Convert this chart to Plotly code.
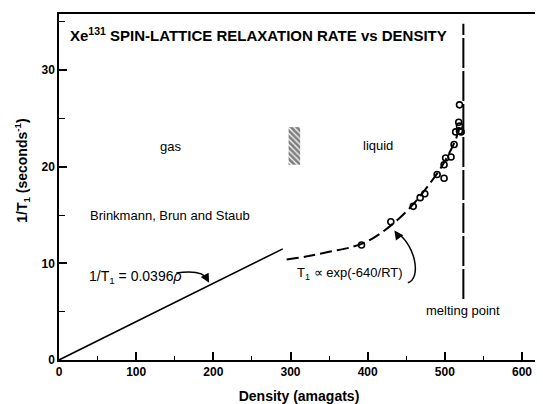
import plotly.graph_objects as go

# ---- data ----
meas_density = [392, 430, 459, 468, 474, 490, 499, 499, 501, 508, 512, 514, 518, 519, 519, 521, 519]
meas_rate = [11.9, 14.3, 15.9, 16.8, 17.2, 19.2, 18.8, 20.2, 20.9, 21.0, 22.3, 23.6, 24.6, 24.2, 23.7, 23.6, 26.4]

gas_density = [0, 290]
gas_rate = [0, 11.5]

fit_density = [295, 320, 350, 380, 400, 420, 440, 460, 480, 495, 505, 515, 519]
fit_rate = [10.4, 10.7, 11.2, 11.7, 12.3, 13.3, 14.6, 16.2, 18.2, 19.9, 21.3, 23.0, 24.2]

melt_density = [524, 524]
melt_rate = [6.3, 34.8]

hatch_density = [305]
hatch_low = [20.2]
hatch_height = [3.9]

x_ticks = [0, 100, 200, 300, 400, 500, 600]
y_ticks = [0, 10, 20, 30]

FONT = "Liberation Sans, Arial, sans-serif"

fig = go.Figure()

fig.add_trace(go.Bar(x=hatch_density, y=hatch_height, base=hatch_low, width=15,
                     marker=dict(color="white", line=dict(width=0),
                                 pattern=dict(shape="\\", fgcolor="black", bgcolor="white",
                                              size=4, solidity=0.7))))

fig.add_trace(go.Scatter(x=gas_density, y=gas_rate, mode="lines",
                         line=dict(color="black", width=1.6)))
fig.add_trace(go.Scatter(x=fit_density, y=fit_rate, mode="lines",
                         line=dict(color="black", width=2, dash="12px,5px", shape="spline")))
fig.add_trace(go.Scatter(x=melt_density, y=melt_rate, mode="lines",
                         line=dict(color="black", width=2, dash="30px,3px")))
fig.add_trace(go.Scatter(x=meas_density, y=meas_rate, mode="markers",
                         marker=dict(symbol="circle-open", size=6, color="black",
                                     line=dict(width=1.6, color="black"))))

ann = []
def txt(x, y, s, size=13, bold=False, xref="x", yref="y", **kw):
    if bold:
        s = "<b>" + s + "</b>"
    ann.append(dict(x=x, y=y, xref=xref, yref=yref, text=s, showarrow=False,
                    font=dict(family=FONT, size=size, color="black"), **kw))

txt(0.018, 0.941, "Xe<sup>131</sup> SPIN-LATTICE RELAXATION RATE vs DENSITY", size=15, bold=True,
    xref="paper", yref="paper", xanchor="left", yanchor="middle")
txt(144, 22.1, "gas")
txt(414, 22.2, "liquid")
txt(144, 14.9, "Brinkmann, Brun and Staub")
txt(99, 8.6, "1/T<sub>1</sub> = 0.0396<i>ρ</i>", size=14)
txt(377, 9.0, "T<sub>1</sub> ∝ exp(-640/RT)")
txt(524, 5.1, "melting point", size=13)

# arrowheads
ann.append(dict(x=194.6, y=8.0, ax=-4, ay=-7, xref="x", yref="y", text="", showarrow=True,
                arrowhead=2, arrowsize=1.2, arrowwidth=1.5, arrowcolor="black"))
ann.append(dict(x=434.6, y=13.4, ax=5, ay=7, xref="x", yref="y", text="", showarrow=True,
                arrowhead=2, arrowsize=1.2, arrowwidth=1.5, arrowcolor="black"))

shapes = [
    dict(type="path", xref="x", yref="y", path="M 152,9.0 Q 186,9.4 193,8.3",
         line=dict(color="black", width=1.5)),
    dict(type="path", xref="x", yref="y", path="M 452,8.0 C 470,8.4 462,12.0 437,13.2",
         line=dict(color="black", width=1.5)),
]

txt(-0.077, 0.547, "<b>1/T<sub>1</sub> (seconds<sup>-1</sup>)</b>", size=14,
    xref="paper", yref="paper", textangle=-90, xanchor="center", yanchor="middle")

# The page body has an 8 px default margin, so the figure is 8 px smaller
# and its margins 8 px smaller on the left/top to land the plot area where the reference has it.
fig.update_layout(
    width=535, height=396,
    margin=dict(l=51, r=2, t=6, b=41),
    paper_bgcolor="white", plot_bgcolor="white",
    showlegend=False,
    annotations=ann, shapes=shapes,
    font=dict(family=FONT, color="black"),
    xaxis=dict(range=[0, 622], tickvals=x_ticks, ticktext=[f"<b>{v}</b>" for v in x_ticks],
               ticks="inside", ticklen=8, tickwidth=1.5, tickcolor="black",
               minor=dict(dtick=50, tick0=0, ticks="inside", ticklen=4, tickwidth=1.2, tickcolor="black"),
               showline=True, linecolor="black", linewidth=1.5, mirror=True,
               showgrid=False, zeroline=False,
               tickfont=dict(family=FONT, size=12, color="black"),
               title=dict(text="<b>Density (amagats)</b>", font=dict(family=FONT, size=14, color="black"),
                          standoff=13)),
    yaxis=dict(range=[0, 35.8], tickvals=y_ticks, ticktext=[f"<b>{v}</b>" for v in y_ticks],
               ticks="inside", ticklen=8, tickwidth=1.5, tickcolor="black",
               minor=dict(dtick=5, tick0=0, ticks="inside", ticklen=6, tickwidth=1.2, tickcolor="black"),
               showline=True, linecolor="black", linewidth=1.5, mirror=True,
               showgrid=False, zeroline=False,
               tickfont=dict(family=FONT, size=12, color="black")),
)

fig.write_html("out.html")
